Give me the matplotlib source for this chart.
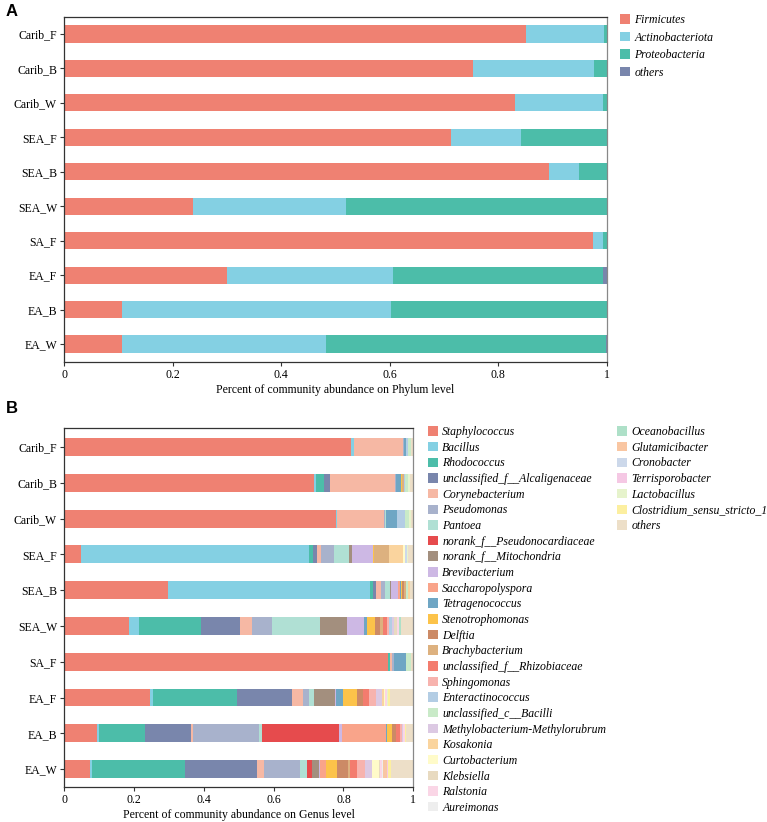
import matplotlib
matplotlib.use("Agg")
import matplotlib.pyplot as plt
from matplotlib.patches import Patch
import numpy as np

plt.rcParams['font.family'] = ['Liberation Serif', 'DejaVu Serif']

# ---------------- data ----------------
samples = ["Carib_F", "Carib_B", "Carib_W", "SEA_F", "SEA_B", "SEA_W",
           "SA_F", "EA_F", "EA_B", "EA_W"]

phyla = ["Firmicutes", "Actinobacteriota", "Proteobacteria", "others"]
phylum_colors = ["#EF8172", "#84D0E3", "#4CBDA9", "#7986AC"]
firmicutes = [0.850, 0.754, 0.830, 0.712, 0.894, 0.238, 0.975, 0.301, 0.107, 0.107]
actinobacteriota = [0.145, 0.222, 0.163, 0.129, 0.054, 0.282, 0.017, 0.304, 0.496, 0.376]
proteobacteria = [0.005, 0.024, 0.007, 0.159, 0.052, 0.480, 0.008, 0.387, 0.397, 0.515]
phylum_others = [0.000, 0.000, 0.000, 0.000, 0.000, 0.000, 0.000, 0.008, 0.000, 0.002]

genera = ["Staphylococcus", "Bacillus", "Rhodococcus", "unclassified_f__Alcaligenaceae",
          "Corynebacterium", "Pseudomonas", "Pantoea", "norank_f__Pseudonocardiaceae",
          "norank_f__Mitochondria", "Brevibacterium", "Saccharopolyspora", "Tetragenococcus",
          "Stenotrophomonas", "Delftia", "Brachybacterium", "unclassified_f__Rhizobiaceae",
          "Sphingomonas", "Enteractinococcus", "unclassified_c__Bacilli",
          "Methylobacterium-Methylorubrum", "Kosakonia", "Curtobacterium", "Klebsiella",
          "Ralstonia", "Aureimonas", "Oceanobacillus", "Glutamicibacter", "Cronobacter",
          "Terrisporobacter", "Lactobacillus", "Clostridium_sensu_stricto_1", "others"]
genus_colors = ["#EF8172", "#84D0E3", "#4CBDA9", "#7986AC", "#F6B8A4", "#A8B2CC",
                "#B0E0D4", "#E64B4D", "#A38F7E", "#CDB8E4", "#F9A48A", "#6FA6C4",
                "#FCC34A", "#CC8A66", "#DDB17F", "#F37C6E", "#F7B3AE", "#B3CDE4",
                "#C9EAC8", "#DCC9E3", "#FAD49E", "#FFFBC9", "#E8DAC0", "#FAD6E6",
                "#EEEEEE", "#AEE0C8", "#F9C6A2", "#CCD8EA", "#F5C8E4", "#E6F3CC",
                "#FCEFA0", "#EDDFC8"]

# genus values per sample, in genus order above
carib_f = [0.822, 0.007, 0.001, 0, 0.140, 0.004, 0, 0, 0, 0, 0, 0.006, 0, 0, 0, 0,
           0, 0.004, 0.010, 0, 0, 0, 0, 0, 0, 0, 0, 0, 0, 0, 0, 0.006]
carib_b = [0.717, 0.004, 0.024, 0.017, 0.187, 0.002, 0, 0, 0, 0, 0, 0.014, 0.004, 0, 0.003, 0,
           0, 0.005, 0.008, 0, 0, 0, 0, 0, 0, 0, 0, 0, 0, 0.005, 0, 0.010]
carib_w = [0.779, 0.002, 0, 0, 0.135, 0.004, 0.003, 0, 0, 0, 0, 0.031, 0, 0, 0, 0,
           0, 0.021, 0.012, 0, 0, 0, 0, 0, 0, 0, 0, 0, 0, 0.005, 0, 0.008]
sea_f = [0.050, 0.651, 0.013, 0.011, 0.010, 0.038, 0.042, 0, 0.009, 0.061, 0, 0, 0.003, 0, 0.043, 0,
         0, 0, 0, 0, 0.040, 0.004, 0, 0, 0, 0, 0, 0.006, 0, 0.005, 0, 0.014]
sea_b = [0.297, 0.579, 0.009, 0.009, 0.013, 0.012, 0.014, 0, 0.004, 0.020, 0.004, 0.005, 0.003, 0.004, 0.005, 0,
         0, 0, 0.008, 0, 0.004, 0, 0, 0, 0, 0, 0, 0, 0, 0, 0, 0.010]
sea_w = [0.186, 0.030, 0.177, 0.112, 0.032, 0.058, 0.137, 0, 0.078, 0.050, 0, 0.007, 0.024, 0.014, 0.008, 0.013,
         0.004, 0.008, 0, 0.006, 0, 0, 0.010, 0.005, 0, 0.005, 0, 0, 0, 0, 0, 0.036]
sa_f = [0.929, 0, 0.005, 0, 0.004, 0.006, 0, 0, 0, 0, 0, 0.036, 0, 0, 0, 0,
        0, 0, 0.012, 0, 0, 0, 0, 0, 0, 0, 0, 0, 0, 0, 0, 0.008]
ea_f = [0.246, 0.010, 0.238, 0.160, 0.030, 0.016, 0.015, 0, 0.061, 0.003, 0, 0.021, 0.038, 0.019, 0, 0.016,
        0.019, 0, 0, 0.017, 0.006, 0.005, 0, 0.004, 0, 0, 0, 0, 0, 0.005, 0.004, 0.067]
ea_b = [0.094, 0.006, 0.132, 0.133, 0.003, 0.190, 0.008, 0.221, 0, 0.008, 0.127, 0.003, 0.015, 0.011, 0, 0.010,
        0.006, 0, 0, 0.004, 0, 0, 0, 0.005, 0, 0, 0, 0, 0, 0, 0.004, 0.020]
ea_w = [0.074, 0.006, 0.266, 0.207, 0.019, 0.103, 0.022, 0.013, 0.019, 0.005, 0.015, 0, 0.032, 0.033, 0.005, 0.019,
        0.024, 0, 0, 0.019, 0, 0.020, 0.003, 0.005, 0.003, 0, 0.012, 0, 0.005, 0, 0.006, 0.065]

genus_table = [carib_f, carib_b, carib_w, sea_f, sea_b, sea_w, sa_f, ea_f, ea_b, ea_w]
phylum_table = [firmicutes, actinobacteriota, proteobacteria, phylum_others]

xticks = [0, 0.2, 0.4, 0.6, 0.8, 1]
xtick_labels = ["0", "0.2", "0.4", "0.6", "0.8", "1"]

# ---------------- figure ----------------
W, H = 767, 822
fig = plt.figure(figsize=(W / 100, H / 100), dpi=100)

FS = 8.5


def fx(px):
    return px / W


def fy(py):
    return 1 - py / H


def style_axes(ax, xlabel):
    n = len(samples)
    ax.set_xlim(0, 1)
    ax.set_yticks(np.arange(n))
    ax.set_yticklabels(samples[::-1], fontsize=FS)
    ax.set_xticks(xticks)
    ax.set_xticklabels(xtick_labels, fontsize=FS)
    ax.set_xlabel(xlabel, fontsize=FS, labelpad=2)
    ax.tick_params(axis='both', length=3, width=0.8, color='#333333', pad=2)
    for s in ['left', 'bottom', 'top']:
        ax.spines[s].set_color('#333333')
        ax.spines[s].set_linewidth(0.9)
    ax.spines['right'].set_color('#888888')
    ax.spines['right'].set_linewidth(0.9)


# Panel A
axA = fig.add_axes([fx(64), fy(362), fx(607 - 64), (362 - 17) / H])
ypos = np.arange(len(samples))[::-1]
left = np.zeros(len(samples))
for name, vals, col in zip(phyla, phylum_table, phylum_colors):
    v = np.array(vals)
    axA.barh(ypos, v, left=left, height=0.5, color=col, linewidth=0, label=name)
    left += v
axA.set_ylim(-0.52, 9.49)
style_axes(axA, "Percent of community abundance on Phylum level")

handlesA = [Patch(facecolor=c, edgecolor='none') for c in phylum_colors]
fig.legend(handlesA, phyla, loc='upper left', bbox_to_anchor=(fx(620), fy(14)),
           frameon=False, prop={'style': 'italic', 'size': FS}, handlelength=0.85,
           handleheight=0.85, handletextpad=0.35, labelspacing=0.47, borderpad=0,
           borderaxespad=0)

# Panel B
axB = fig.add_axes([fx(64), fy(787), fx(413.3 - 64), (787 - 428) / H])
left = np.zeros(len(samples))
for gi, (name, col) in enumerate(zip(genera, genus_colors)):
    v = np.array([row[gi] for row in genus_table])
    axB.barh(ypos, v, left=left, height=0.5, color=col, linewidth=0, label=name)
    left += v
axB.set_ylim(-0.5, 9.53)
style_axes(axB, "Percent of community abundance on Genus level")

handlesB = [Patch(facecolor=c, edgecolor='none') for c in genus_colors]
fig.legend(handlesB[:25], genera[:25], loc='upper left', bbox_to_anchor=(fx(428), fy(426)),
           frameon=False, prop={'style': 'italic', 'size': FS}, handlelength=0.85,
           handleheight=0.85, handletextpad=0.35, labelspacing=0.31, borderpad=0,
           borderaxespad=0)
fig.legend(handlesB[25:], genera[25:], loc='upper left', bbox_to_anchor=(fx(617), fy(426)),
           frameon=False, prop={'style': 'italic', 'size': FS}, handlelength=0.85,
           handleheight=0.85, handletextpad=0.35, labelspacing=0.31, borderpad=0,
           borderaxespad=0)

# Panel labels
fig.text(fx(6), fy(12), "A", fontsize=12, fontweight='bold', family='Liberation Sans',
         va='center', ha='left')
fig.text(fx(6), fy(408), "B", fontsize=12, fontweight='bold', family='Liberation Sans',
         va='center', ha='left')

fig.savefig("out.png", dpi=100)
